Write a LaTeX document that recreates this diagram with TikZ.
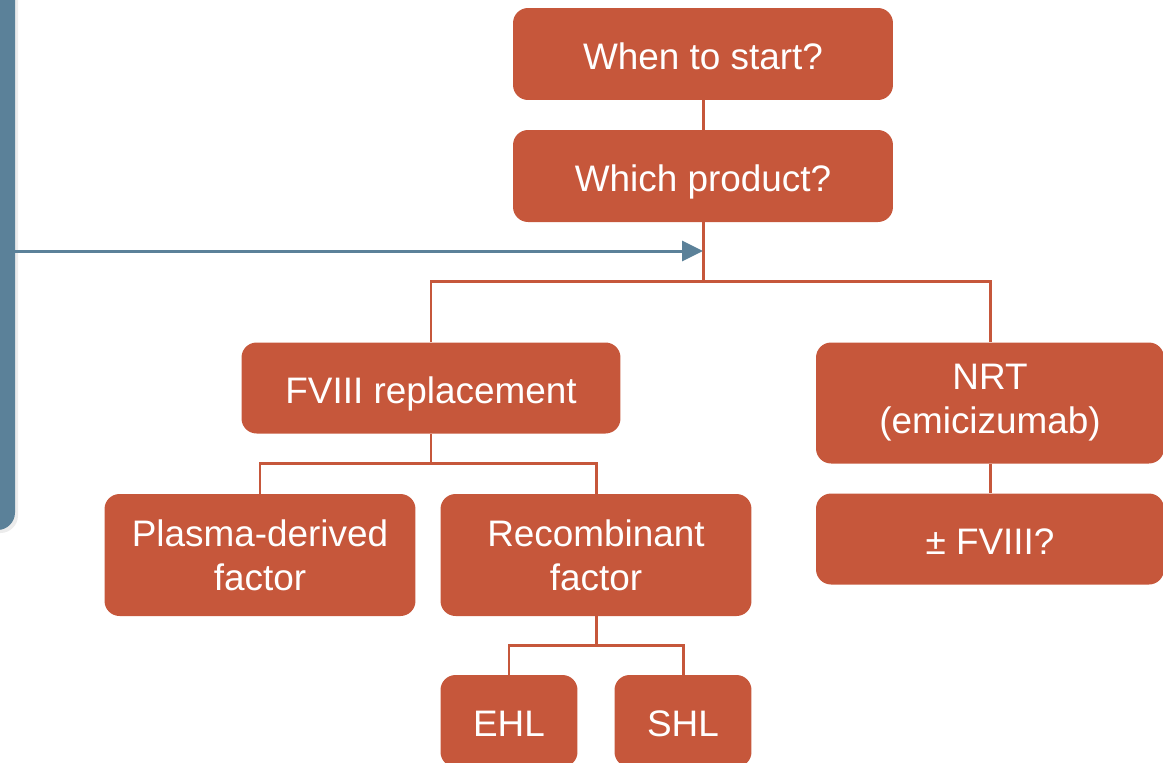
\documentclass[tikz,border=0pt]{standalone}
\usepackage{fontspec}
\setmainfont{Liberation Sans}
\usetikzlibrary{positioning,arrows.meta,calc}
\definecolor{rust}{HTML}{C6573B}
\definecolor{slate}{HTML}{5B8199}
\tikzset{
  linkline/.style={draw=rust, line width=1.7pt},
  feedarrow/.style={-{Triangle[length=4.2mm, width=4mm]}, draw=slate, fill=slate, line width=1.7pt},
  stepbox/.style={fill=rust, text=white, rounded corners=0.3cm, align=center, inner sep=0pt,
    font=\fontsize{21}{25}\selectfont},
  oneline/.style={text height=0.78cm, text depth=0.16cm},
  wideq/.style={stepbox, oneline, minimum width=7.6cm, minimum height=1.84cm},
  mainopt/.style={stepbox, minimum width=6.96cm},
  subopt/.style={stepbox, minimum width=6.22cm, minimum height=2.44cm},
  leafbox/.style={stepbox, oneline, minimum width=2.74cm, minimum height=1.84cm}
}
\begin{document}
\begin{tikzpicture}[x=0.02cm, y=-0.02cm]
  \useasboundingbox (0,0) rectangle (1163,762);
  \clip (0,0) rectangle (1163,762);
  % side panel, mostly off the page
  \fill[gray!15, rounded corners=0.35cm] (-200,-40) rectangle (18,533);
  \fill[slate, rounded corners=0.35cm] (-200,-40) rectangle (15,530);
  \node[inner sep=0pt, minimum size=0pt] (panel) at (15,251) {};
  % questions
  \node[wideq] (start) at (703,54) {When to start?};
  \node[wideq] (product) at (703,176) {Which product?};
  % options
  \node[stepbox, oneline, minimum width=7.58cm, minimum height=1.82cm] (fviii) at (431,388) {FVIII replacement};
  \node[mainopt, minimum height=2.42cm] (nrt) at (990,403) {NRT\\(emicizumab)};
  \node[mainopt, oneline, minimum height=1.82cm] (plusfviii) at (990,539) {± FVIII?};
  \node[subopt] (plasma) at (260,555) {Plasma-derived\\factor};
  \node[subopt] (recomb) at (596,555) {Recombinant\\factor};
  \node[leafbox] (ehl) at (509,721) {EHL};
  \node[leafbox] (shl) at (683,721) {SHL};
  % junctions
  \coordinate (split) at (703,281);
  \coordinate (feed) at (703,251);
  \coordinate (fsplit) at (431,463);
  \coordinate (rsplit) at (596,645);
  % connectors
  \draw[linkline] (start) -- (product);
  \draw[linkline] (product) -- (split);
  \draw[linkline] (fviii.north) |- (split) -| (nrt.north);
  \draw[linkline] (nrt) -- (plusfviii);
  \draw[linkline] (fviii) -- (fsplit);
  \draw[linkline] (plasma.north) |- (fsplit) -| (recomb.north);
  \draw[linkline] (recomb) -- (rsplit);
  \draw[linkline] (ehl.north) |- (rsplit) -| (shl.north);
  \draw[feedarrow] (panel) -- (feed);
\end{tikzpicture}
\end{document}
